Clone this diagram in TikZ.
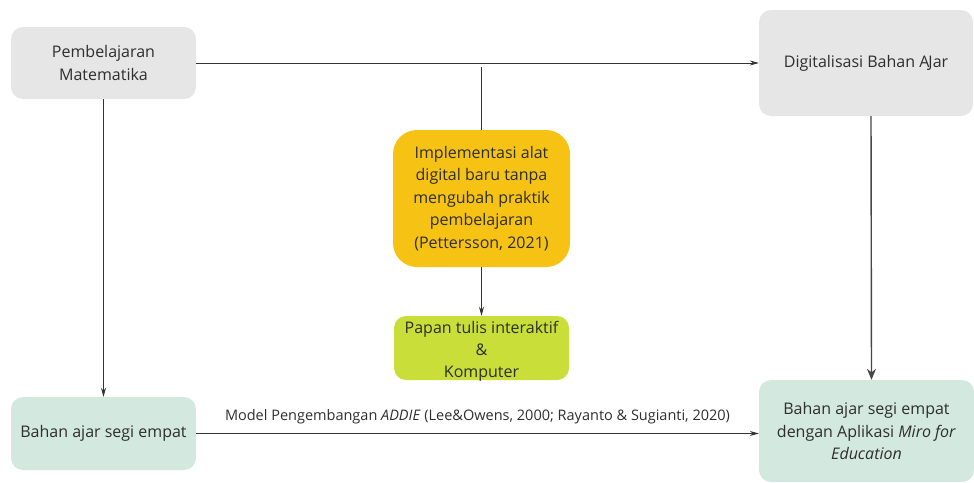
\documentclass[tikz,border=0pt]{standalone}
\usepackage{fontspec}
\setmainfont{Open Sans}
\usetikzlibrary{arrows.meta,calc}
\definecolor{boxgray}{HTML}{E6E6E6}
\definecolor{boxmint}{HTML}{D3E8DE}
\definecolor{boxyellow}{HTML}{F6C314}
\definecolor{boxlime}{HTML}{C9DE38}
\definecolor{txt}{HTML}{2E2E2E}
\definecolor{ln}{HTML}{333333}
\tikzset{
  box/.style={rounded corners=12pt, inner sep=0pt, align=center, text=txt,
    font=\fontsize{16}{22.5}\selectfont},
  conn/.style={draw=ln, line width=0.8pt, -{Stealth[length=9pt,width=5pt]}},
  plain/.style={draw=ln, line width=0.8pt},
  heavy/.style={draw=ln!90, line width=1.4pt, -{Stealth[length=11pt,width=9pt]}},
}
\begin{document}
\begin{tikzpicture}[x=1pt,y=-1pt]
\useasboundingbox (0,0) rectangle (974,482);
\node[box, fill=boxgray, minimum width=185pt, minimum height=72pt] (pm) at (103.5,63) {Pembelajaran\\Matematika};
\node[box, fill=boxgray, minimum width=214pt, minimum height=106pt] (dig) at (866,63) {Digitalisasi Bahan A\kern-1pt Jar};
\node[box, fill=boxyellow, rounded corners=24pt, minimum width=177pt, minimum height=137pt] (yel) at (481.5,198.5) {Implementasi alat\\digital baru tanpa\\mengubah praktik\\pembelajaran\\(Pettersson, 2021)};
\node[box, fill=boxlime, minimum width=175pt, minimum height=64pt] (lime) at (481.5,348) {};
\node[box, font=\fontsize{16}{22}\selectfont] (limetxt) at (481.5,351) {Papan tulis interaktif\\\&\\Komputer};
\node[box, fill=boxmint, minimum width=185pt, minimum height=73pt] (bas) at (103.5,433.5) {Bahan ajar segi empat};
\node[box, fill=boxmint, minimum width=215pt, minimum height=102pt] (fin) at (866.5,431) {Bahan ajar segi empat\\dengan Aplikasi \textit{Miro for}\\\textit{Education}};
\coordinate (tj) at (481.5,67);
\draw[conn] (pm.east) -- (dig.west);
\draw[plain] (tj) -- (yel.north);
\draw[conn] (yel.south) -- (lime.north);
\draw[conn] (pm.south) -- (bas.north);
\draw[conn] (bas.east) -- (bas.east -| fin.west) node[midway, above=6pt, text=txt, font=\fontsize{14.5}{16}\selectfont] (lbl) {Model Pengembangan \textit{ADDIE} (Lee\&Owens, 2000; Rayanto \& Sugianti, 2020)};
\draw[heavy] ([xshift=5pt]dig.south) -- ([xshift=5pt]fin.north);
\end{tikzpicture}
\end{document}
